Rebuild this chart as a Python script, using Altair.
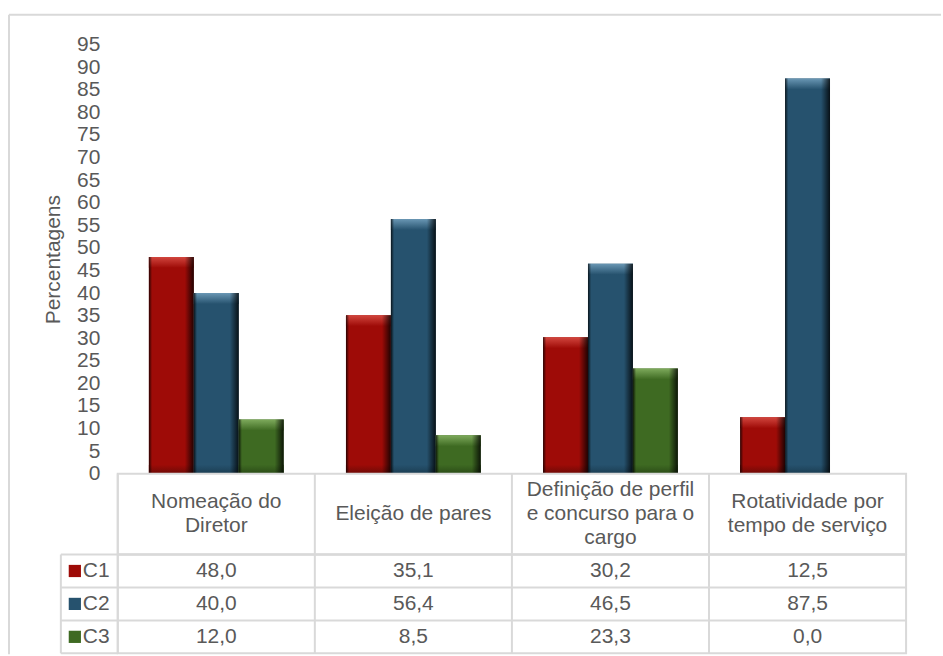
import altair as alt
import pandas as pd

# ---------------- data ----------------
categories = [
    "Nomeação do Diretor",
    "Eleição de pares",
    "Definição de perfil e concurso para o cargo",
    "Rotatividade por tempo de serviço",
]
header_lines = [
    "Nomeação do\nDiretor",
    "Eleição de pares",
    "Definição de perfil\ne concurso para o\ncargo",
    "Rotatividade por\ntempo de serviço",
]
series = ["C1", "C2", "C3"]
c1 = [48.0, 35.1, 30.2, 12.5]
c2 = [40.0, 56.4, 46.5, 87.5]
c3 = [12.0, 8.5, 23.3, 0.0]
y_ticks = list(range(0, 100, 5))

# ---------------- style ----------------
FONT = "Liberation Sans"
TXT = "#595959"
BORDER = "#d9d9d9"
FS = 21
LH = 24
main = {"C1": "#9e0b07", "C2": "#26526e", "C3": "#3e6a22"}
light = {"C1": "#d2463e", "C2": "#6a97b4", "C3": "#7eaa5c"}
bottom_dark = {"C1": "#6e0a06", "C2": "#1b3d52", "C3": "#2b4c17"}

W, HA, HB, HC = 790, 430, 81, 99

rows = []
for s, vals in zip(series, [c1, c2, c3]):
    for cat, v in zip(categories, vals):
        rows.append({"cat": cat, "series": s, "value": v, "zero": 0.0,
                     "label": f"{v:.1f}".replace(".", ",")})
df = pd.DataFrame(rows)
hdf = pd.DataFrame({"cat": categories, "header": header_lines,
                    "nlines": [h.count("\n") + 1 for h in header_lines]})
sdf = pd.DataFrame({"series": series})
one = alt.Data(values=[{}])

# ---------------- panel A : bars ----------------
xA = alt.X("cat:N", sort=categories,
           scale=alt.Scale(domain=categories, paddingInner=0.316, paddingOuter=0.158),
           axis=None)
xoff = alt.XOffset("series:N", sort=series,
                   scale=alt.Scale(domain=series, paddingInner=0, paddingOuter=0))
axisA = alt.Axis(values=y_ticks, title="Percentagens", grid=False,
                 ticks=False, tickSize=0, domain=False, labelPadding=18,
                 labelFontSize=FS, labelColor=TXT, labelFont=FONT,
                 labelOverlap=False, titleFont=FONT, titleFontSize=FS,
                 titleFontWeight="normal", titleColor=TXT, titlePadding=13)
yscale = alt.Scale(domain=[0, 95], nice=False, zero=True)
yA = alt.Y("value:Q", scale=yscale, axis=axisA)
yZ = alt.Y("zero:Q", scale=yscale, axis=axisA)


def vgrad(c_top, c_bot):
    return alt.Gradient(gradient="linear", x1=0, x2=0, y1=0, y2=1, stops=[
        alt.GradientStop(color=c_top, offset=0),
        alt.GradientStop(color=c_bot, offset=1),
    ])


edge_grad = alt.Gradient(gradient="linear", x1=0, x2=1, y1=0, y2=0, stops=[
    alt.GradientStop(color="rgba(0,0,0,0.75)", offset=0),
    alt.GradientStop(color="rgba(0,0,0,0)", offset=0.07),
    alt.GradientStop(color="rgba(0,0,0,0)", offset=0.80),
    alt.GradientStop(color="rgba(0,0,0,0.8)", offset=1),
])

layers = []
for s in series:
    src = alt.Chart(df).transform_filter(f"datum.series == '{s}' && datum.value > 0")
    layers.append(src.mark_bar(color=main[s]).encode(x=xA, xOffset=xoff, y=yA))
    layers.append(src.mark_bar(color=vgrad(light[s], main[s]), y2Offset=11).encode(
        x=xA, xOffset=xoff, y=yA, y2="value:Q"))
    layers.append(src.mark_bar(color=vgrad(main[s], bottom_dark[s]), y2Offset=-9).encode(
        x=xA, xOffset=xoff, y=yZ, y2="zero:Q"))
    layers.append(src.mark_bar(color=edge_grad).encode(x=xA, xOffset=xoff, y=yA))

frame_top = alt.Chart(one).mark_rule(color=BORDER, strokeWidth=2).encode(
    x=alt.value(-109), x2=alt.value(825), y=alt.value(-30))
frame_left = alt.Chart(one).mark_rule(color=BORDER, strokeWidth=2).encode(
    x=alt.value(-109), y=alt.value(-30), y2=alt.value(611))

panelA = alt.layer(*layers, frame_top, frame_left).properties(width=W, height=HA)

# ---------------- panel B : table header ----------------
xT = alt.X("cat:N", sort=categories,
           scale=alt.Scale(domain=categories, paddingInner=0, paddingOuter=0),
           axis=None)
xT_edge = alt.X("cat:N", sort=categories, bandPosition=0,
                scale=alt.Scale(domain=categories, paddingInner=0, paddingOuter=0),
                axis=None)

b_lines = alt.Chart(hdf).mark_rule(color=BORDER, strokeWidth=2).encode(x=xT_edge)
b_texts = []
for n in sorted(set(hdf["nlines"])):
    b_texts.append(
        alt.Chart(hdf).transform_filter(f"datum.nlines == {n}").mark_text(
            lineBreak="\n", font=FONT, fontSize=FS, lineHeight=LH, color=TXT,
            baseline="middle", dy=-LH * (n - 1) / 2
        ).encode(x=xT, text="header:N")
    )
panelB = alt.layer(b_lines, *b_texts).properties(
    width=W, height=HB, view=alt.ViewBackground(stroke=BORDER, strokeWidth=2))

# ---------------- panel C : table values ----------------
yT = alt.Y("series:N", sort=series,
           scale=alt.Scale(domain=series, paddingInner=0, paddingOuter=0), axis=None)
yT_edge = alt.Y("series:N", sort=series, bandPosition=0,
                scale=alt.Scale(domain=series, paddingInner=0, paddingOuter=0), axis=None)

c_vlines = alt.Chart(hdf).mark_rule(color=BORDER, strokeWidth=2).encode(x=xT_edge)
c_hlines = alt.Chart(sdf).mark_rule(color=BORDER, strokeWidth=2).encode(
    y=yT_edge, x=alt.value(-57), x2=alt.value(W))
c_left = alt.Chart(one).mark_rule(color=BORDER, strokeWidth=2).encode(
    x=alt.value(-57), y=alt.value(0), y2=alt.value(HC))
c_bottom = alt.Chart(one).mark_rule(color=BORDER, strokeWidth=2).encode(
    x=alt.value(-57), x2=alt.value(0), y=alt.value(HC))
c_text = alt.Chart(df).mark_text(font=FONT, fontSize=FS, color=TXT,
                                 baseline="middle").encode(x=xT, y=yT, text="label:N")
c_swatch = alt.Chart(sdf).mark_square(size=150, opacity=1).encode(
    x=alt.value(-43), y=yT,
    color=alt.Color("series:N", scale=alt.Scale(domain=series,
                                                range=[main[s] for s in series]),
                    legend=None))
c_lab = alt.Chart(sdf).mark_text(font=FONT, fontSize=FS, color=TXT, align="left",
                                 baseline="middle").encode(
    x=alt.value(-35), y=yT, text="series:N")

panelC = alt.layer(c_vlines, c_hlines, c_left, c_bottom, c_text, c_swatch, c_lab).properties(
    width=W, height=HC, view=alt.ViewBackground(stroke=BORDER, strokeWidth=2))

chart = alt.vconcat(panelA, panelB, panelC, spacing=0, bounds="flush").resolve_scale(
    x="independent", y="independent", color="independent"
).configure_view(stroke="transparent").properties(
    padding={"left": 7, "top": 12, "right": 0, "bottom": 0},
    background="white",
)

chart.save("out.html", embed_options={"renderer": "svg", "actions": False})
